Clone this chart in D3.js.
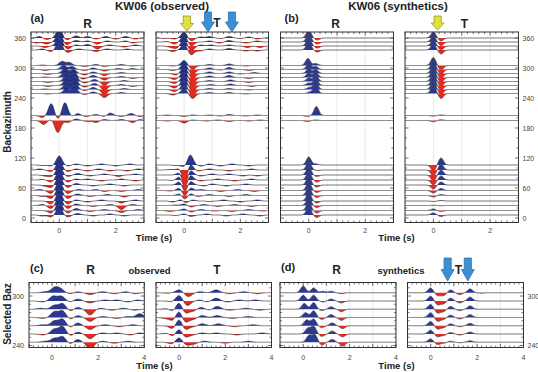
<!DOCTYPE html>
<html><head><meta charset="utf-8">
<script src="https://cdn.jsdelivr.net/npm/d3@7"></script>
<style>body{margin:0;background:#fff}svg{display:block;font-family:"Liberation Sans",Arial,sans-serif}</style>
</head><body><svg id="c" width="538" height="372"></svg>
<script>
// ---------------- DATA ----------------
// backazimuths of the stacked traces (top panels)
const bazTop = [360,352,344,336, 305,297,289,281,273,265,257,249, 205,195, 106,96,86,76,66,55,45,34,25,15,6];
// each trace: list of pulses [time (s), amplitude (deg of baz axis)]
const rObs = [
 [[-0.7,3],[-0.45,-3],[0,20],[0.25,-4],[0.6,4],[1.0,3],[1.3,-2],[1.65,3],[2.0,-2],[2.35,3],[2.7,-2]],
 [[-0.8,-2],[-0.45,-4],[0,20],[0.25,-6],[0.6,3],[1.0,2],[1.35,-4],[1.7,2],[2.35,2],[2.6,-2]],
 [[-0.5,-3],[0,20],[0.3,-6],[0.6,2],[1.0,3],[1.35,-6],[1.8,2],[2.3,-2],[2.7,2]],
 [[-0.6,2],[-0.3,-3],[0,18],[0.3,-5],[0.7,2],[1.3,-3],[1.7,2],[2.4,2]],
 [[-0.6,1],[0.1,8],[0.35,6],[0.9,-2],[1.3,2],[1.6,-2],[2.2,2],[2.6,-1]],
 [[-0.5,-2],[0.15,8],[0.45,6],[0.9,-2],[1.2,3],[1.6,-3],[2.1,2],[2.6,2]],
 [[-0.4,-2],[0.2,10],[0.5,8],[0.9,-3],[1.2,3],[1.6,-4],[2.2,2]],
 [[-0.5,1],[0.2,12],[0.5,12],[0.85,-3],[1.2,4],[1.6,-5],[2.2,2],[2.6,-2]],
 [[-0.4,-2],[0.25,12],[0.55,14],[0.9,-3],[1.25,4],[1.6,-8],[2.3,2]],
 [[-0.4,-2],[0.25,12],[0.55,14],[0.9,-3],[1.25,4],[1.6,-10],[2.2,2],[2.6,-2]],
 [[-0.5,1],[0.25,12],[0.55,14],[0.9,-2],[1.2,4],[1.6,-10],[2.3,2]],
 [[-0.4,-1],[0.25,10],[0.55,12],[0.9,-2],[1.2,3],[1.6,-8],[2.2,2]],
 [[-0.6,-4],[-0.28,24],[-0.05,-8],[0.2,26],[0.45,-2],[0.65,4],[0.95,-2],[1.3,2],[1.6,-2],[1.8,5],[2.2,-2],[2.55,4],[2.85,-2]],
 [[-0.55,-8],[-0.3,2],[-0.05,-24],[0.3,-4],[0.6,3],[1.0,-2],[1.3,-4],[1.6,2],[2.2,2],[2.6,-4],[2.85,2]],
 [[-0.6,-1],[-0.3,-2],[0,18],[0.3,-2],[0.6,2],[1.0,-2],[1.5,2],[2.0,-2],[2.5,2]],
 [[-0.7,2],[-0.3,-3],[0,18],[0.3,-3],[0.6,2],[1.0,-2],[1.4,2],[1.8,-2],[2.4,-2],[2.8,2]],
 [[-0.5,-2],[-0.3,-3],[0,18],[0.3,-3],[0.65,3],[1.1,-2],[1.6,2],[2.1,-3],[2.7,2]],
 [[-0.6,1],[-0.3,-4],[0,18],[0.3,-4],[0.6,2],[1.0,2],[1.5,-2],[2.2,2],[2.7,-2]],
 [[-0.5,-2],[-0.3,-5],[0,18],[0.3,-5],[0.6,3],[1.2,-2],[1.8,2],[2.3,-2]],
 [[-0.7,2],[-0.3,-6],[0,18],[0.3,-6],[0.7,2],[1.3,2],[1.6,-2],[2.2,-2],[2.8,2]],
 [[-0.6,-2],[-0.3,-6],[0,18],[0.3,-6],[0.65,3],[1.1,-2],[1.7,2],[2.3,-3]],
 [[-0.3,-6],[0,18],[0.3,-6],[0.6,2],[1.0,-2],[1.5,2],[2.2,-4],[2.7,2]],
 [[-0.6,2],[-0.3,-6],[0,18],[0.3,-6],[0.6,3],[1.2,-2],[1.8,2],[2.2,-8],[2.6,2]],
 [[-0.3,-5],[0,18],[0.3,-5],[0.6,4],[1.1,-2],[1.6,2],[2.2,-4],[2.8,2]],
 [[-0.6,-2],[-0.3,-4],[0,16],[0.3,-4],[0.65,3],[1.2,-2],[1.8,2],[2.3,-2]]
];
const tObs = [
 [[-0.7,-1],[-0.35,-2],[0,12],[0.25,-6],[0.6,2],[0.9,3],[1.3,-1],[1.6,3],[2.0,-1],[2.3,2],[2.6,-2]],
 [[-0.6,1],[-0.35,-4],[0,14],[0.25,-8],[0.9,2],[1.25,-2],[1.6,3],[2.2,-2],[2.6,2]],
 [[-0.5,-2],[-0.3,-5],[0,14],[0.25,-10],[0.6,2],[0.95,2],[1.6,2],[2.25,-3],[2.7,-3]],
 [[-0.4,-3],[0,12],[0.25,-10],[0.55,-2],[0.9,2],[1.6,3],[2.2,-2],[2.6,-2]],
 [[-0.4,-1],[0,10],[0.3,-8],[0.9,2],[1.6,3],[2.2,-1]],
 [[-0.4,-2],[0,12],[0.3,-10],[0.9,3],[1.3,-1],[1.6,4],[2.3,-2]],
 [[-0.3,-3],[0,14],[0.3,-10],[0.9,3],[1.6,3],[2.0,-1],[2.5,2]],
 [[-0.35,-4],[0,14],[0.3,-12],[0.9,3],[1.6,4],[2.3,-2]],
 [[-0.35,-4],[0,14],[0.3,-12],[0.9,2],[1.65,3],[2.3,-2]],
 [[-0.35,-5],[0,14],[0.3,-12],[0.95,2],[1.65,3],[2.4,-2]],
 [[-0.35,-4],[0,12],[0.3,-12],[0.9,2],[1.6,2],[2.3,-1]],
 [[-0.4,-3],[0,10],[0.3,-10],[0.9,2],[1.6,2],[2.2,-1]],
 [[-0.6,1],[0,-2],[0.3,1],[0.9,1],[1.3,-1],[1.6,2],[2.2,-1],[2.6,1]],
 [[-0.6,-1],[0,-5],[0.3,1],[0.8,-1],[1.2,1],[1.6,-2],[2.3,-1],[2.7,1]],
 [[-0.3,-1],[0,-4],[0.22,20],[0.6,-2],[0.9,2],[1.3,-2],[1.7,2],[2.3,-2]],
 [[-0.5,1],[-0.15,4],[0.02,-22],[0.22,12],[0.5,-2],[0.9,2],[1.6,-2],[2.4,2]],
 [[-0.15,6],[0.02,-20],[0.22,10],[0.6,-2],[1.0,2],[1.6,2],[2.1,-2],[2.6,-2]],
 [[-0.4,-1],[-0.15,8],[0.02,-16],[0.22,10],[0.6,-2],[1.2,2],[1.8,-2],[2.4,2]],
 [[-0.15,8],[0.02,-14],[0.22,8],[0.7,-2],[1.0,2],[1.5,-2],[2.2,2]],
 [[-0.5,-1],[-0.15,6],[0.02,-12],[0.22,6],[0.6,2],[1.3,-2],[1.9,2],[2.5,-2]],
 [[-0.15,4],[0.02,-8],[0.22,4],[0.5,-2],[0.9,2],[1.6,-2],[2.2,2]],
 [[-0.4,-2],[-0.1,3],[0.05,-4],[0.3,2],[0.9,-1],[1.4,2],[2.0,-2],[2.6,2]],
 [[-0.3,1],[0,3],[0.25,-3],[0.7,2],[1.2,-2],[1.8,2],[2.4,-2]],
 [[-0.5,-2],[0,3],[0.25,-3],[0.6,2],[1.1,-1],[1.7,-2],[2.3,2],[2.8,-1]],
 [[-0.3,-1],[0,2],[0.25,-3],[0.8,2],[1.5,-2],[2.1,2],[2.7,-2]]
];
const rSyn = [
 [[0,16],[0.3,-4]],[[0,16],[0.3,-4]],[[0,16],[0.3,-4]],[[0,16],[0.3,-4]],
 [[-0.03,14],[0.25,4]],[[0,12],[0.25,6]],[[0,10],[0.25,8]],[[0,9],[0.25,10]],
 [[0,7],[0.25,12]],[[0,5],[0.25,13]],[[0.02,4],[0.25,14]],[[0.05,3],[0.25,14]],
 [[-0.05,-2],[0.27,18]],[[-0.05,-2],[0.25,1]],
 [[0,16],[0.25,2]],[[0,16],[0.28,-1]],[[0,16],[0.28,-3]],[[0,16],[0.28,-4]],[[0,16],[0.28,-4]],
 [[0,16],[0.28,-4]],[[0,16],[0.28,-4]],[[0,16],[0.28,-4]],[[0,16],[0.28,-4]],[[0,16],[0.28,-5]],[[0,16],[0.28,-5]]
];
const tSyn = [
 [[0,12],[0.27,-6]],[[0,12],[0.27,-7]],[[0,12],[0.27,-8]],[[0,12],[0.27,-8]],
 [[0,16],[0.27,-9]],[[0,16],[0.27,-10]],[[0,16],[0.27,-10]],[[0,16],[0.27,-10]],
 [[0,16],[0.27,-10]],[[0,16],[0.27,-10]],[[0,16],[0.27,-10]],[[0,16],[0.27,-10]],
 [[0,-1],[0.27,1]],[[0,-2.5],[0.27,1.5]],
 [[0,-12],[0.27,14]],[[0,-12],[0.27,12]],[[0,-12],[0.27,10]],[[0,-10],[0.27,8]],[[0,-8],[0.27,6]],
 [[0,-5],[0.27,4]],[[0,-3],[0.27,2]],[[0,-1],[0.27,1]],[[0,0.5],[0.27,-0.5]],[[0,3],[0.27,-2]],[[0,4],[0.27,-3]]
];
// selected backazimuths (bottom panels)
const bazSel = [304,294,284,274,264,254,244];
const rObsSel = [
 [[-0.3,1],[0.1,5],[0.35,4],[0.8,-1],[1.1,1],[1.65,-2],[2.2,1],[2.7,-1],[3.2,1],[3.6,-1]],
 [[-0.4,-1],[0.05,5],[0.4,5],[0.8,-1],[1.1,2],[1.65,-2],[2.3,1],[2.8,1],[3.3,-1],[3.7,1]],
 [[-0.5,1],[0.1,4],[0.45,6],[0.8,-2],[1.1,2],[1.65,-6],[2.1,1],[2.6,-1],[3.1,1],[3.6,-1]],
 [[-0.4,-1],[0.1,6],[0.45,7],[0.8,-2],[1.1,2],[1.65,-4],[2.2,1],[2.8,-1],[3.3,1],[3.8,4]],
 [[-0.4,1],[0.1,5],[0.45,7],[0.8,-2],[1.1,3],[1.65,-4],[2.3,1],[2.9,-1],[3.5,1]],
 [[-0.4,-1],[0.1,5],[0.45,8],[0.8,-2],[1.1,2],[1.65,-5],[2.2,1],[2.8,1],[3.4,-1],[3.8,1]],
 [[-0.3,1],[0.1,4],[0.45,6],[0.8,-2],[1.1,3],[1.65,-7],[2.2,1],[2.7,-1],[3.3,1]]
];
const tObsSel = [
 [[-0.5,-0.5],[0,3],[0.4,-4],[0.9,1],[1.6,3],[2.2,-1],[2.8,1],[3.4,-1]],
 [[-0.3,-1],[0,6],[0.35,-5],[0.9,1],[1.2,-1],[1.6,3],[2.1,-1],[2.6,1],[3.3,1]],
 [[-0.5,1],[-0.25,-3],[0,8],[0.25,-5],[0.6,-2],[0.95,2],[1.3,-1],[1.65,3],[2.2,-1],[2.9,1],[3.5,-1]],
 [[-0.6,-1],[-0.25,-4],[0,8],[0.25,-6],[0.6,-2],[1.0,2],[1.65,2],[2.3,-1],[3.0,1]],
 [[-0.25,-4],[0,8],[0.25,-5],[0.6,-1],[1.0,2],[1.7,2],[2.4,-1],[3.2,1]],
 [[-0.5,1],[-0.25,-3],[0,6],[0.25,-4],[0.55,-1],[1.0,1],[1.6,1],[2.5,-1],[3.6,1]],
 [[-0.3,-2],[0,5],[0.3,-3],[0.6,-2],[1.1,1],[2.0,-1],[3.0,1]]
];
const rSynSel = [
 [[0,7],[0.45,5],[0.85,1.5],[1.2,1.5],[1.65,-1]],
 [[0,6],[0.45,6],[0.85,-1],[1.2,2],[1.65,-2]],
 [[0.05,6],[0.45,7],[0.8,-1.5],[1.2,2.5],[1.65,-2.5]],
 [[0.1,5],[0.45,7],[0.8,-2],[1.2,3],[1.65,-3]],
 [[0.15,6],[0.45,7],[0.8,-2],[1.25,3],[1.7,-3]],
 [[0.2,6],[0.45,8],[0.8,-2.5],[1.25,3],[1.7,-3]],
 [[0.25,7],[0.5,8],[0.8,-3],[1.25,3],[1.7,-4]]
];
const tSynSel = [
 [[0,5],[0.3,-3],[0.55,-3],[0.85,3],[1.25,-2],[1.7,4],[2.2,-0.5]],
 [[0,5],[0.3,-4],[0.55,-3],[0.85,3],[1.25,-2],[1.7,4]],
 [[0,5],[0.3,-4],[0.55,-2.5],[0.85,3],[1.25,-1.5],[1.7,3.5]],
 [[0,5],[0.3,-4],[0.55,-2],[0.85,2.5],[1.25,-1.5],[1.7,3]],
 [[0,4.5],[0.3,-3.5],[0.55,-2],[0.85,2],[1.25,-1],[1.7,2.5]],
 [[0,4],[0.3,-3],[0.55,-1.5],[0.85,1.5],[1.25,-1],[1.7,2]],
 [[0,3.5],[0.3,-2.5],[0.55,-1],[0.85,1],[1.25,-0.5],[1.7,1.5]]
];
const topTimeTicks = [0,2];
const selTimeTicks = [0,2,4];
const topBazTicks = [0,60,120,180,240,300,360];
const selBazTicks = [240,300];
// arrow marker times (s)
const yellowArrowObs = [0.1];
const blueArrowsObs = [0.85,1.7];
const yellowArrowSyn = [0.15];
const blueArrowsSynSel = [0.73,1.6];

// ---------------- DRAWING ----------------
const svg = d3.select("#c");
const BLUE = "#2b3892", RED = "#e42a22";
let clipId = 0;

function wave(pulses, t, sig){
  let s = 0;
  for (const p of pulses){ const w = p[2]||sig; const u=(t-p[0])/w; s += p[1]*Math.exp(-0.5*u*u); }
  return s;
}

function panel(o){
  const x = d3.scaleLinear().domain(o.tdom).range([o.x0,o.x1]);
  const y = d3.scaleLinear().domain(o.bdom).range([o.y1,o.y0]);
  const id = "clip"+(clipId++);
  svg.append("clipPath").attr("id",id).append("rect")
    .attr("x",o.x0).attr("y",o.y0).attr("width",o.x1-o.x0).attr("height",o.y1-o.y0);
  const g = svg.append("g").attr("clip-path","url(#"+id+")");
  // grid
  g.selectAll(".gx").data(d3.range(Math.ceil(o.tdom[0]),o.tdom[1]+0.001,1)).enter().append("line")
    .attr("x1",d=>x(d)).attr("x2",d=>x(d)).attr("y1",o.y0).attr("y2",o.y1)
    .attr("stroke","#dcdcdc").attr("stroke-width",0.6);
  const ts = d3.range(o.tdom[0], o.tdom[1]+0.0001, 0.01);
  o.baz.forEach((b,i)=>{
    const pts = ts.map(t=>({t, v:wave(o.traces[i],t,o.sig)*o.gain}));
    g.append("path").datum(pts).attr("fill",BLUE)
      .attr("d", d3.area().x(d=>x(d.t)).y0(y(b)).y1(d=>y(b+Math.max(0,d.v))));
    g.append("path").datum(pts).attr("fill",RED)
      .attr("d", d3.area().x(d=>x(d.t)).y0(y(b)).y1(d=>y(b+Math.min(0,d.v))));
    g.append("path").datum(pts).attr("fill","none")
      .attr("stroke", o.syn ? "#555" : "#222").attr("stroke-width", o.syn ? 0.9 : 0.6)
      .attr("d", d3.line().x(d=>x(d.t)).y(d=>y(b+d.v)));
  });
  // frame
  svg.append("rect").attr("x",o.x0).attr("y",o.y0).attr("width",o.x1-o.x0).attr("height",o.y1-o.y0)
    .attr("fill","none").attr("stroke","#333").attr("stroke-width",1);
  // ticks (inward)
  const tk = svg.append("g").attr("stroke","#333").attr("stroke-width",0.7);
  d3.range(o.tdom[0], o.tdom[1]+0.001, 0.2).forEach(t=>{
    const maj = Math.abs(t-Math.round(t))<0.01; const L = maj?3.5:2;
    tk.append("line").attr("x1",x(t)).attr("x2",x(t)).attr("y1",o.y1).attr("y2",o.y1-L);
    tk.append("line").attr("x1",x(t)).attr("x2",x(t)).attr("y1",o.y0).attr("y2",o.y0+L);
  });
  d3.range(Math.ceil(o.bdom[0]/o.bstep)*o.bstep, o.bdom[1], o.bstep).forEach(b=>{
    const maj = b%60===0; const L = maj?3.5:2;
    tk.append("line").attr("y1",y(b)).attr("y2",y(b)).attr("x1",o.x0).attr("x2",o.x0+L);
    tk.append("line").attr("y1",y(b)).attr("y2",y(b)).attr("x1",o.x1).attr("x2",o.x1-L);
  });
  // time tick labels
  svg.append("g").selectAll("text").data(o.tticks).enter().append("text")
    .attr("x",d=>x(d)).attr("y",o.y1+o.tlabOff).attr("text-anchor","middle")
    .attr("font-size",7).attr("fill","#444").text(d=>d);
  if (o.leftLab) svg.append("g").selectAll("text").data(o.bticks).enter().append("text")
    .attr("x",o.x0-5).attr("y",d=>y(d)+2.5).attr("text-anchor","end")
    .attr("font-size",7).attr("fill","#444").text(d=>d);
  if (o.rightLab) svg.append("g").selectAll("text").data(o.bticks).enter().append("text")
    .attr("x",o.x1+4).attr("y",d=>y(d)+2.5).attr("text-anchor","start")
    .attr("font-size",7).attr("fill","#444").text(d=>d);
  return {x,y};
}

const topCfg = {y0:32, y1:222.5, tdom:[-1,3], bdom:[-9,372], bstep:20, tticks:topTimeTicks, bticks:topBazTicks, baz:bazTop, tlabOff:10.5, gain:1, sig:0.1};
const selCfg = {y0:282.5, y1:347.5, tdom:[-1,4], bdom:[237.6,316.4], bstep:10, tticks:selTimeTicks, bticks:selBazTicks, baz:bazSel, tlabOff:12.5, gain:1.15, sig:0.15};

panel(Object.assign({}, topCfg, {x0:31, x1:144, traces:rObs, leftLab:true}));
const pAT = panel(Object.assign({}, topCfg, {x0:156, x1:268.5, traces:tObs}));
panel(Object.assign({}, topCfg, {x0:280.5, x1:393.5, traces:rSyn, syn:true, sig:0.085}));
const pBT = panel(Object.assign({}, topCfg, {x0:405, x1:518.5, traces:tSyn, syn:true, sig:0.085, rightLab:true}));
panel(Object.assign({}, selCfg, {x0:29, x1:144.3, traces:rObsSel, leftLab:true}));
panel(Object.assign({}, selCfg, {x0:156, x1:271.5, traces:tObsSel}));
panel(Object.assign({}, selCfg, {x0:280, x1:396, traces:rSynSel, syn:true, sig:0.11}));
const pDT = panel(Object.assign({}, selCfg, {x0:407.5, x1:523.5, traces:tSynSel, syn:true, sig:0.11, rightLab:true}));

// arrows
function arrow(cx, yt, yb, fill, stroke){
  const bw=3.6, hw=6.5, hy = yt + (yb-yt)*0.5;
  svg.append("path").attr("d",`M${cx-bw},${yt}L${cx+bw},${yt}L${cx+bw},${hy}L${cx+hw},${hy}L${cx},${yb}L${cx-hw},${hy}L${cx-bw},${hy}Z`)
    .attr("fill",fill).attr("stroke",stroke).attr("stroke-width",0.7);
}
yellowArrowObs.forEach(t=>arrow(pAT.x(t),16,31,"#e3e23a","#8c8a2a"));
blueArrowsObs.forEach(t=>arrow(pAT.x(t),12,32,"#3b8fd3","#2a6aa6"));
yellowArrowSyn.forEach(t=>arrow(pBT.x(t),16,30,"#e3e23a","#8c8a2a"));
blueArrowsSynSel.forEach(t=>arrow(pDT.x(t),258,281,"#3b8fd3","#2a6aa6"));

// texts
function txt(x,y,s,size,opt={}){
  const t = svg.append("text").attr("x",x).attr("y",y).attr("font-size",size)
    .attr("font-weight","bold").attr("fill","#222").attr("text-anchor",opt.anchor||"middle").text(s);
  if (opt.rot) t.attr("transform",`rotate(-90,${x},${y})`);
}
txt(162,10,"KW06 (observed)",11.5);
txt(398,10,"KW06 (synthetics)",11.5);
txt(30.5,22,"(a)",11,{anchor:"start"});
txt(87.5,28,"R",12);
txt(217,27,"T",12);
txt(284.5,22,"(b)",11,{anchor:"start"});
txt(335.5,28,"R",12);
txt(464.5,28,"T",12);
txt(11,122,"Backazimuth",10,{rot:true});
txt(154,241,"Time (s)",9.5);
txt(396.5,241,"Time (s)",9.5);
txt(30,272,"(c)",11,{anchor:"start"});
txt(90.5,274,"R",12);
txt(149.5,274,"observed",9.5);
txt(217,274,"T",12);
txt(281,271,"(d)",11,{anchor:"start"});
txt(336.5,274,"R",12);
txt(401,274,"synthetics",9.5);
txt(458.5,274,"T",12);
txt(10.5,314,"Selected Baz",10,{rot:true});
txt(154.5,369,"Time (s)",9.5);
txt(396.5,369,"Time (s)",9.5);
</script></body></html>
